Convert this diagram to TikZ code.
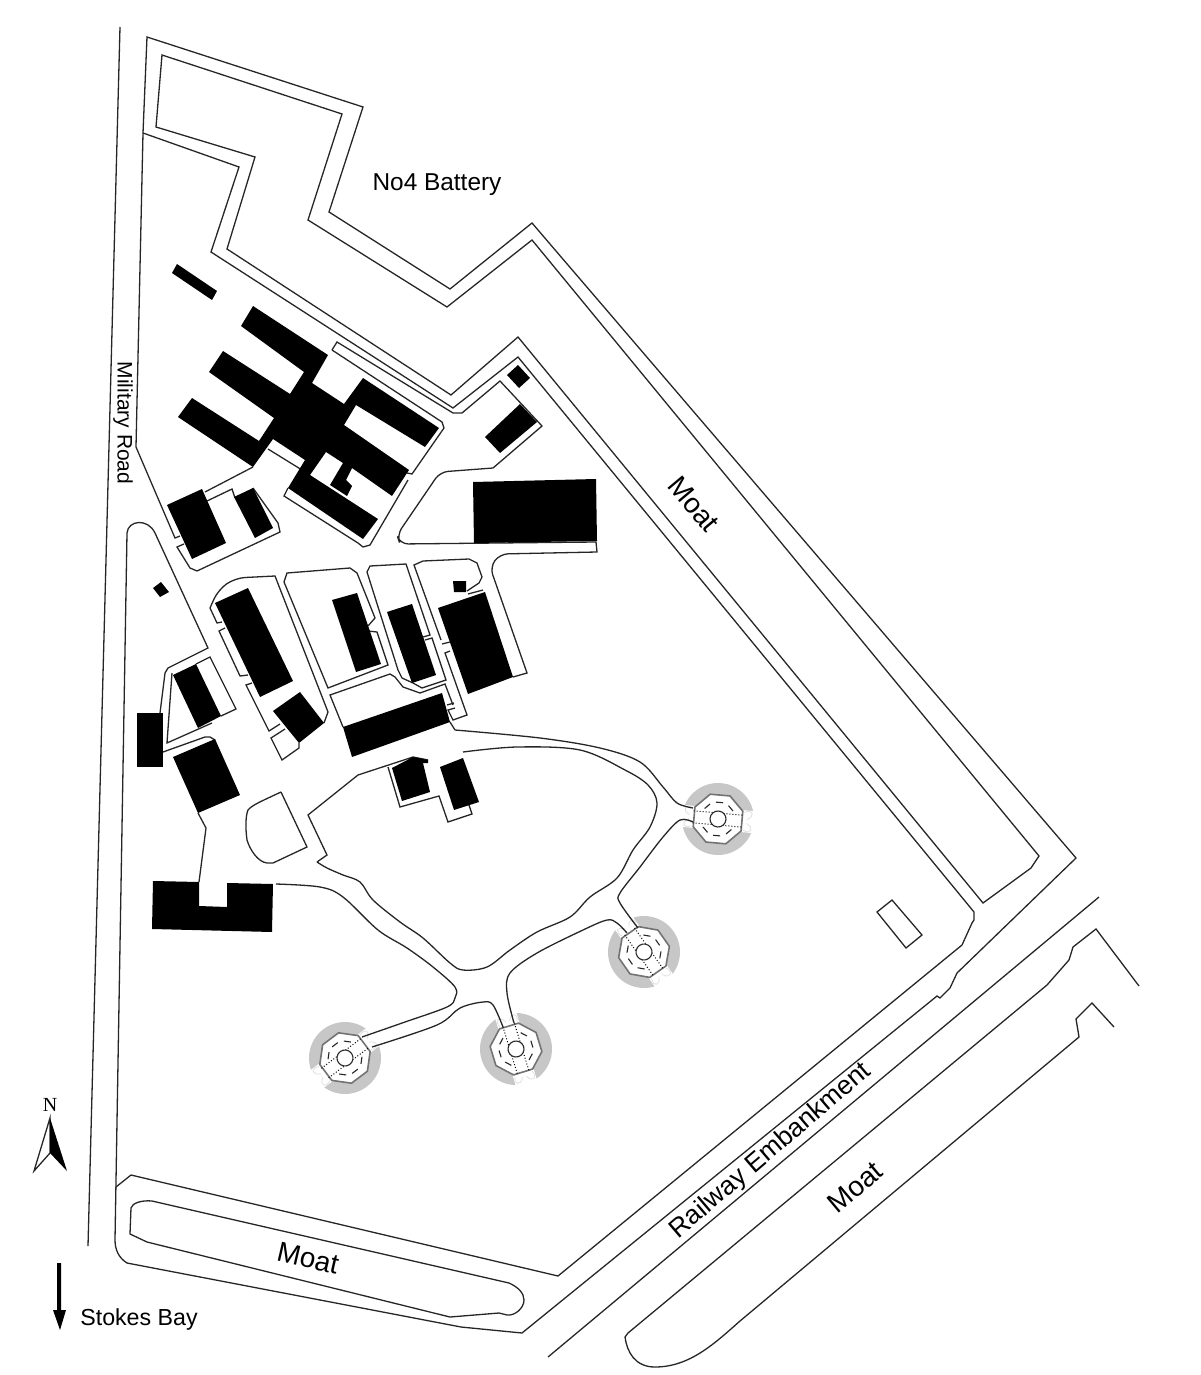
\documentclass[tikz,border=0pt]{standalone}
\usepackage{fontspec}
\setmainfont{Liberation Sans}
\newfontfamily\northfont{Liberation Serif}
\tikzset{
	wall/.style={draw=black!85, line width=0.65pt, line join=miter},
	block/.style={fill=black},
	ringfill/.style={fill=black!22},
	towerwall/.style={draw=black!55, line width=0.8pt, fill=white},
	towerdash/.style={draw=black!85, line width=0.55pt},
	towerdot/.style={draw=black, line width=0.5pt, densely dotted},
	petal/.style={draw=black!12, line width=0.4pt},
}
\begin{document}
\begin{tikzpicture}[x=0.5pt, y=-0.5pt]
	\useasboundingbox (0, 0) rectangle (1200, 1375);

	\foreach \tx/\ty/\ta in {718/819/-5, 644/952/-55, 516/1049/-73, 345/1058/37} {
		\begin{scope}[shift={(\tx, \ty)}, rotate=\ta]
			\fill[ringfill] (0, 0) circle (36);
			\fill[white] (-40, -11) rectangle (40, 11);
			\draw[petal] (26, -9) .. controls (34, -13) and (37, -6) .. (29, -2);
			\draw[petal] (29, 2) .. controls (37, 6) and (34, 13) .. (26, 9);
			\draw[petal] (-26, -9) .. controls (-34, -13) and (-37, -6) .. (-29, -2);
			\draw[petal] (-29, 2) .. controls (-37, 6) and (-34, 13) .. (-26, 9);
			\draw[towerwall] (22.5:26) -- (67.5:26) -- (112.5:26) -- (157.5:26) -- (202.5:26) -- (247.5:26) -- (292.5:26) -- (337.5:26) -- cycle;
			\draw[towerdot] (-25, -6) -- (25, -6);
			\draw[towerdot] (-25, 6) -- (25, 6);
			\foreach \da in {45, 90, 135, 225, 270, 315} {
				\draw[towerdash] (\da-12:17) -- (\da+12:17);
			}
			\draw[towerdash, fill=white] (0, 0) circle (8);
		\end{scope}
	}

	\draw[wall] (120, 27) -- (88, 1246);
	\draw[wall] (143, 133) -- (147, 37) -- (363, 107) -- (329, 212) -- (450, 289) -- (532, 223) -- (1076, 858) -- (957, 973) -- (950, 988) -- (940, 998) -- (937, 996) -- (522, 1333) -- (461, 1327) -- (127, 1263) .. controls (119, 1258) and (115, 1250) .. (115, 1240) -- (127, 533) .. controls (128, 520) and (148, 518) .. (155, 533) -- (208, 648) -- (168, 668) -- (165, 673) -- (160, 713);
	\draw[wall] (143, 133) -- (136, 447) -- (175, 538) -- (180, 536);
	\draw[wall] (143, 133) -- (239, 167) -- (211, 252) -- (453, 408) -- (518, 357) -- (974, 912) -- (974, 920) -- (972, 923) -- (962, 945) -- (558, 1276) -- (131, 1175) -- (116, 1187);
	\draw[wall] (451, 395) -- (227, 249) -- (255, 157) -- (156, 127) -- (162, 55) -- (342, 114) -- (308, 220) -- (447, 307) -- (532, 240) -- (1039, 856) -- (1031, 868) -- (983, 903) -- (518, 337) -- cycle;
	\draw[wall] (131, 1208) .. controls (132, 1203) and (142, 1200) .. (152, 1201) -- (509, 1283) .. controls (518, 1287) and (524, 1293) .. (524, 1300) .. controls (524, 1308) and (515, 1316) .. (507, 1315) -- (499, 1313) -- (450, 1317) -- (147, 1242) -- (130, 1234) -- cycle;

	\draw[wall] (1099, 897) -- (548, 1357);
	\draw[wall] (1139, 986) -- (1096, 929) -- (1073, 947) -- (1069, 960) -- (1047, 985) -- (628, 1333) -- (625, 1337) .. controls (627, 1352) and (635, 1367) .. (655, 1367) .. controls (690, 1367) and (715, 1343) .. (740, 1321) -- (1079, 1037) -- (1076, 1019) -- (1092, 1003) -- (1114, 1027);
	\draw[wall] (892, 900) -- (922, 935) -- (906, 948) -- (877, 912) -- cycle;

	% buildings ringed by paths
	\draw[wall] (332, 350) -- (337, 342) -- (453, 413) -- (462, 413) -- (500, 381) -- (542, 426) -- (493, 468) [rounded corners=4pt] -- (440, 472) -- (397, 535) -- (400, 544) [sharp corners] -- (596, 542) -- (597, 552) [rounded corners=4pt] -- (500, 554) -- (490, 567) [sharp corners] -- (527, 673) -- (513, 677);
	\draw[wall] (332, 350) -- (442, 422) -- (444, 428) -- (412, 474) -- (407, 473);
	\draw[wall] (288, 488) -- (284, 496) -- (358, 543) -- (363, 547) -- (370, 545) -- (408, 480);
	\draw[wall] (268, 449) -- (302, 470);
	\draw[wall] (253, 467) -- (205, 492);
	\draw[wall] (207, 501) -- (232, 489) -- (235, 498);
	\draw[wall] (253, 488) -- (278, 523) -- (280, 532) -- (197, 571) -- (190, 568) -- (177, 547) -- (184, 544);
	\draw[wall] (222, 622) -- (217, 623) -- (210, 608) [rounded corners=5pt] -- (218, 590) -- (235, 578) [sharp corners] -- (275, 576) -- (328, 712) -- (324, 723);
	\draw[wall] (225, 628) -- (219, 631) -- (240, 676) -- (248, 675);
	\draw[wall] (252, 683) -- (246, 685) -- (269, 731) -- (280, 724);
	\draw[wall] (285, 729) -- (271, 738) -- (282, 760) -- (299, 748) -- (299, 743);
	\draw[wall] (368, 626) -- (375, 618) -- (357, 573) -- (350, 568) -- (287, 573) -- (284, 582) -- (328, 688) -- (388, 665) -- (377, 632) -- (368, 631);
	\draw[wall] (343, 727) -- (330, 695) -- (390, 674) -- (395, 677) -- (403, 687) -- (420, 693) -- (445, 684) -- (453, 705);
	\draw[wall] (423, 637) -- (430, 635) -- (406, 564) -- (370, 566) -- (367, 572) -- (398, 670) -- (402, 678) -- (413, 683) -- (422, 688) -- (446, 680) -- (432, 638) -- (425, 640);
	\draw[wall] (441, 640) -- (414, 565) -- (423, 561) -- (469, 559) -- (477, 563) -- (482, 577) -- (479, 583) -- (467, 591);
	\draw[wall] (468, 594) -- (483, 590);
	\draw[wall] (442, 644) -- (450, 642);
	\draw[wall] (450, 651) -- (445, 653) -- (467, 715) -- (453, 720) -- (448, 710) -- (455, 708);
	\draw[wall] (447, 705) -- (454, 703);
	\draw[wall] (212, 723) -- (167, 743) -- (172, 673);
	\draw[wall] (196, 664) -- (210, 657) -- (236, 709) -- (221, 716);
	\draw[wall] (163, 752) -- (205, 737) -- (210, 737) -- (215, 740);
	\draw[wall] (198, 813) -- (206, 828) -- (199, 882);
	\draw[wall] (281, 792) -- (307, 847) -- (273, 863) -- (267, 863) .. controls (258, 862) and (250, 850) .. (247, 840) .. controls (245, 825) and (246, 815) .. (248, 810) .. controls (252, 805) and (262, 801) .. (281, 792);
	\draw[wall] (388, 767) -- (400, 807) -- (439, 796) -- (448, 822) -- (472, 814) -- (469, 805);

	% roads
	\draw[wall] (450, 722) -- (455, 730);
	\draw[wall] plot[smooth, tension=0.55] coordinates {(455, 730) (540, 738) (600, 748) (640, 762) (663, 787) (677, 803) (693, 808)};
	\draw[wall] plot[smooth, tension=0.55] coordinates {(463, 752) (517, 747) (580, 750) (625, 770) (648, 785) (657, 803) (650, 827) (633, 850) (617, 878) (590, 897) (570, 917) (537, 932) (510, 950) (487, 967) (463, 970) (450, 963) (423, 938) (400, 922) (373, 900) (360, 882) (343, 875) (327, 868) (317, 862)};
	\draw[wall] (317, 862) -- (327, 855) -- (308, 815) -- (358, 775) -- (413, 757) -- (428, 760);
	\draw[wall] plot[smooth, tension=0.55] coordinates {(276, 884) (320, 887) (343, 897) (378, 930) (407, 948) (433, 967) (455, 987) (455, 998) (447, 1007) (405, 1022) (362, 1037)};
	\draw[wall] plot[smooth, tension=0.55] coordinates {(372, 1047) (437, 1025) (460, 1008) (483, 1002) (493, 1005) (503, 1027)};
	\draw[wall] plot[smooth, tension=0.55] coordinates {(514, 1023) (507, 993) (510, 973) (537, 953) (583, 930) (607, 920) (617, 923) (627, 933)};
	\draw[wall] plot[smooth, tension=0.55] coordinates {(638, 928) (620, 903) (620, 893) (640, 867) (663, 837) (680, 820) (693, 822)};

	% black buildings
	\fill[block] (177, 264) -- (217, 291) -- (212, 300) -- (172, 273) -- cycle;
	\fill[block] (253, 306) -- (328, 355) -- (312, 383) -- (344, 404) -- (363, 378) -- (439, 428) -- (425, 447) -- (356, 405) -- (344, 425) -- (409, 470) -- (392, 496) -- (352, 468) -- (346, 480) -- (352, 486) -- (347, 496) -- (330, 485) -- (343, 463) -- (326, 452) -- (310, 475) -- (378, 519) -- (363, 539) -- (288, 488) -- (305, 460) -- (273, 439) -- (253, 467) -- (178, 417) -- (192, 398) -- (259, 441) -- (274, 418) -- (209, 372) -- (223, 351) -- (290, 394) -- (304, 372) -- (241, 326) -- cycle;
	\fill[block] (518, 365) -- (530, 378) -- (519, 388) -- (507, 375) -- cycle;
	\fill[block] (520, 404) -- (537, 422) -- (500, 453) -- (485, 437) -- cycle;
	\fill[block] (473, 482) -- (596, 479) -- (597, 541) -- (474, 543) -- cycle;
	\fill[block] (167, 505) -- (202, 489) -- (226, 543) -- (192, 559) -- cycle;
	\fill[block] (234, 497) -- (253, 488) -- (273, 528) -- (255, 538) -- cycle;
	\fill[block] (161, 582) -- (169, 592) -- (160, 597) -- (153, 588) -- cycle;
	\fill[block] (215, 603) -- (248, 588) -- (293, 681) -- (260, 697) -- cycle;
	\fill[block] (273, 711) -- (300, 692) -- (324, 723) -- (299, 743) -- cycle;
	\fill[block] (332, 600) -- (357, 593) -- (381, 664) -- (356, 672) -- cycle;
	\fill[block] (387, 612) -- (412, 604) -- (436, 675) -- (412, 683) -- cycle;
	\fill[block] (453, 581) -- (466, 581) -- (466, 592) -- (454, 592) -- cycle;
	\fill[block] (438, 608) -- (485, 592) -- (513, 677) -- (468, 694) -- cycle;
	\fill[block] (343, 727) -- (442, 693) -- (450, 722) -- (352, 757) -- cycle;
	\fill[block] (173, 675) -- (196, 664) -- (221, 716) -- (198, 728) -- cycle;
	\fill[block] (137, 713) -- (163, 713) -- (163, 767) -- (137, 767) -- cycle;
	\fill[block] (173, 757) -- (215, 739) -- (240, 795) -- (198, 813) -- cycle;
	\fill[block] (392, 768) -- (413, 757) -- (428, 760) -- (428, 763) -- (423, 763) -- (430, 792) -- (402, 801) -- cycle;
	\fill[block] (440, 767) -- (463, 758) -- (479, 802) -- (454, 810) -- cycle;
	\fill[block] (153, 881) -- (199, 882) -- (199, 906) -- (227, 907) -- (227, 883) -- (273, 884) -- (272, 932) -- (152, 929) -- cycle;

	% north mark and bay arrow
	\draw[wall, fill=white] (50, 1118) -- (34, 1171) -- (50, 1153) -- cycle;
	\fill[block] (50, 1118) -- (67, 1171) -- (50, 1153) -- cycle;
	\fill[block] (57, 1263) -- (61, 1263) -- (61, 1310) -- (66, 1310) -- (60, 1330) -- (53, 1310) -- (57, 1310) -- cycle;

	\node (northlabel) at (50, 1105) {\northfont\fontsize{10}{10}\selectfont N};
	\node (batterylabel) at (437, 185) {\fontsize{12.2}{14}\selectfont No4 Battery};
	\node[rotate=-90] (roadlabel) at (123, 423) {\fontsize{10.5}{12}\selectfont Military Road};
	\node[rotate=-50] (moateast) at (694, 504) {\fontsize{14}{16}\selectfont Moat};
	\node[rotate=-13] (moatwest) at (308, 1258) {\fontsize{14}{16}\selectfont Moat};
	\node[rotate=40] (moatsouth) at (855, 1187) {\fontsize{14}{16}\selectfont Moat};
	\node[rotate=40.5] (banklabel) at (771, 1151) {\fontsize{13.2}{15}\selectfont Railway Embankment};
	\node (baylabel) at (139, 1319) {\fontsize{11.6}{14}\selectfont Stokes Bay};
\end{tikzpicture}
\end{document}
